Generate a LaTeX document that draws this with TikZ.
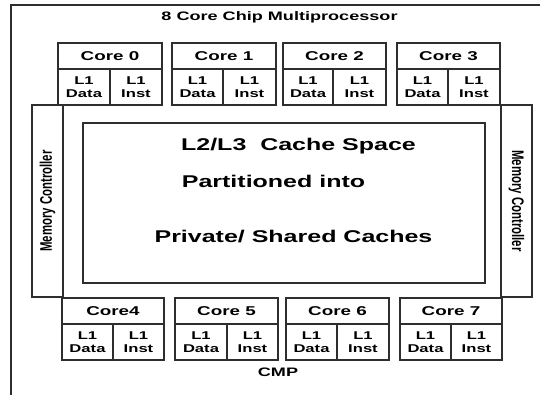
\documentclass[tikz,border=0pt]{standalone}
\usepackage{fontspec}
\newfontfamily\widesans[FakeStretch=1.47]{Liberation Sans}
\newfontfamily\plainsans{Liberation Sans}
\definecolor{linec}{HTML}{2E2E2E}

% One core: header cell plus the two L1 cells below it
% #1 name, #2 left x, #3 divider x, #4 right x, #5 top y, #6 label
\newcommand\coreunit[6]{%
  \node[hdrcell, minimum width={#4-#2}] (#1h) at (#2,#5) {#6};
  \node[l1cell, minimum width={#3-#2}] (#1d) at (#2,#5+26) {L1\\Data};
  \node[l1cell, minimum width={#4-#3}] (#1i) at (#3,#5+26) {L1\\Inst};
}

\begin{document}
\begin{tikzpicture}[x=1pt,y=-1pt]
\tikzset{
  ln/.style={draw=linec, line width=1.1pt},
  cellbase/.style={ln, rectangle, inner sep=0pt, outer sep=0pt, anchor=north west, align=center},
  hdrcell/.style={cellbase, minimum height=26, font=\widesans\bfseries\fontsize{12.8}{14}\selectfont},
  l1cell/.style={cellbase, minimum height=36, font=\widesans\bfseries\fontsize{11.3}{13}\selectfont},
  mcbox/.style={cellbase, minimum width=31, minimum height=192, font=\plainsans\bfseries\fontsize{11.4}{13}\selectfont},
  bigtext/.style={font=\widesans\bfseries\fontsize{17}{19}\selectfont, inner sep=0pt},
  captext/.style={font=\widesans\bfseries\fontsize{12.3}{14}\selectfont, inner sep=0pt},
}
\useasboundingbox (0,0) rectangle (543,395);

% outer frame (top and left edges)
\coordinate (frTR) at (540,5);
\coordinate (frBL) at (11,395);
\draw[ln] (frTR) -| (frBL);

% title and caption
\node[captext] (title) at (279.5,17) {8 Core Chip Multiprocessor};
\node[captext] (cmp) at (278,372) {CMP};

% upper row of cores
\coreunit{c0}{58}{110}{162}{43}{Core 0}
\coreunit{c1}{172}{223}{276}{43}{Core 1}
\coreunit{c2}{283}{333}{386}{43}{Core 2}
\coreunit{c3}{397}{448}{500}{43}{Core 3}

% lower row of cores
\coreunit{c4}{62}{113}{164}{298}{Core4}
\coreunit{c5}{175}{227}{278}{298}{Core 5}
\coreunit{c6}{286}{337}{389}{298}{Core 6}
\coreunit{c7}{400}{451}{502}{298}{Core 7}

% memory controllers on both sides
\node[mcbox] (mcl) at (32,105) {\rotatebox{90}{\scalebox{1}[1.47]{Memory Controller}}};
\node[mcbox] (mcr) at (501,105) {\rotatebox{-90}{\scalebox{1}[1.47]{Memory Controller}}};

% shared cache region
\node[cellbase, minimum width=402, minimum height=160] (cache) at (83,123) {};
\node[bigtext] (t1) at (298.5,146) {L2/L3\ \ Cache Space};
\node[bigtext] (t2) at (273.5,181) {Partitioned into};
\node[bigtext] (t3) at (293.5,237) {Private/ Shared Caches};
\end{tikzpicture}
\end{document}
